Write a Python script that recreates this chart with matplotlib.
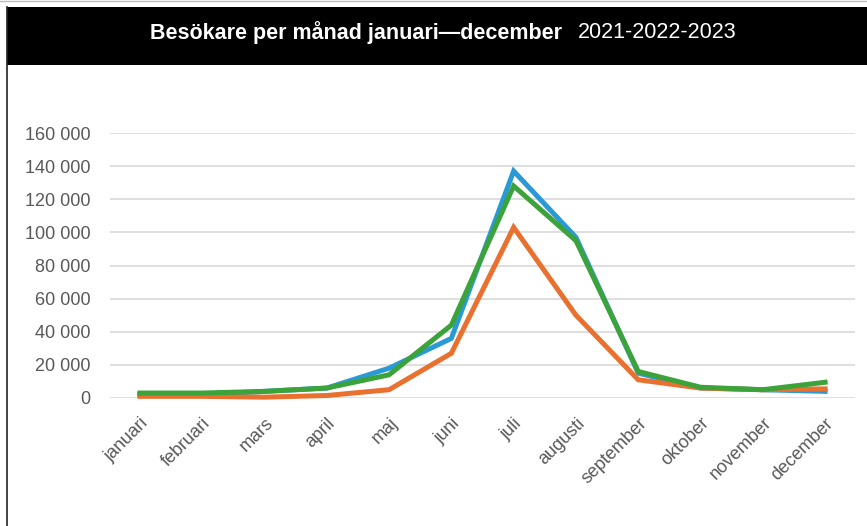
import matplotlib.pyplot as plt
from matplotlib.lines import Line2D
from matplotlib.patches import Rectangle

manader = ['januari', 'februari', 'mars', 'april', 'maj', 'juni', 'juli',
           'augusti', 'september', 'oktober', 'november', 'december']

# besokare per manad, avlasta fran bilden
ar_2021 = [2000, 2000, 4000, 6000, 18000, 36000, 137000, 97000, 15000, 6000, 5000, 4000]
ar_2022 = [1000, 1000, 500, 1500, 5000, 27000, 103000, 50000, 11000, 6000, 5000, 5500]
ar_2023 = [3000, 3000, 4000, 6000, 14000, 44000, 128000, 95000, 16000, 6500, 5000, 9500]

y_ticks = [0, 20000, 40000, 60000, 80000, 100000, 120000, 140000, 160000]

W, H = 867, 526
fig = plt.figure(figsize=(W / 100, H / 100), dpi=100)
fig.patch.set_facecolor('white')

# svart rubrikband och ram
fig.patches.append(Rectangle((7 / W, 1 - 65 / H), 1 - 7 / W, 58 / H,
                             transform=fig.transFigure, facecolor='black',
                             edgecolor='none', zorder=0))
fig.lines.append(Line2D([7 / W, 7 / W], [0, 1 - 7 / H], transform=fig.transFigure,
                        color='#222222', lw=1.2))
fig.lines.append(Line2D([0, 1], [1 - 1 / H, 1 - 1 / H], transform=fig.transFigure,
                        color='#bbbbbb', lw=1))

t1 = fig.text(150 / W, 1 - 33 / H, 'Besökare per månad januari\u2014december',
              color='white', fontsize=15.5, fontweight='bold',
              family='Liberation Sans', va='center', ha='left')
fig.canvas.draw()
bb = t1.get_window_extent()
fig.text((bb.x1 + 16) / W, 1 - 33 / H, '2021-2022-2023', color='white', fontsize=15.5,
         family='Liberation Sans', va='center', ha='left')

ax = fig.add_axes([110 / W, 1 - 398 / H, 745 / W, 265 / H])
x = range(len(manader))
ax.plot(x, ar_2021, color='#2A9AD6', lw=3.6, clip_on=False, solid_joinstyle='miter', zorder=3)
ax.plot(x, ar_2022, color='#E8712F', lw=3.6, clip_on=False, solid_joinstyle='miter', zorder=3)
ax.plot(x, ar_2023, color='#3CA23A', lw=3.6, clip_on=False, solid_joinstyle='miter', zorder=3)

ax.set_xlim(-0.48, 11.48)
ax.set_ylim(0, 160000)
ax.set_yticks(y_ticks)
ax.set_yticklabels([f'{v:,}'.replace(',', ' ') for v in y_ticks])
ax.set_xticks(list(x))
ax.set_xticklabels(manader, rotation=45, ha='right', rotation_mode='anchor')
ax.grid(axis='y', color='#d9d9d9', lw=1.2)
ax.set_axisbelow(True)
for s in ax.spines.values():
    s.set_visible(False)
ax.tick_params(axis='both', length=0, colors='#595959', labelsize=13)
ax.tick_params(axis='y', pad=14)
ax.tick_params(axis='x', pad=12)
for lab in ax.get_xticklabels() + ax.get_yticklabels():
    lab.set_family('Liberation Sans')

fig.savefig('out.png', dpi=100)
